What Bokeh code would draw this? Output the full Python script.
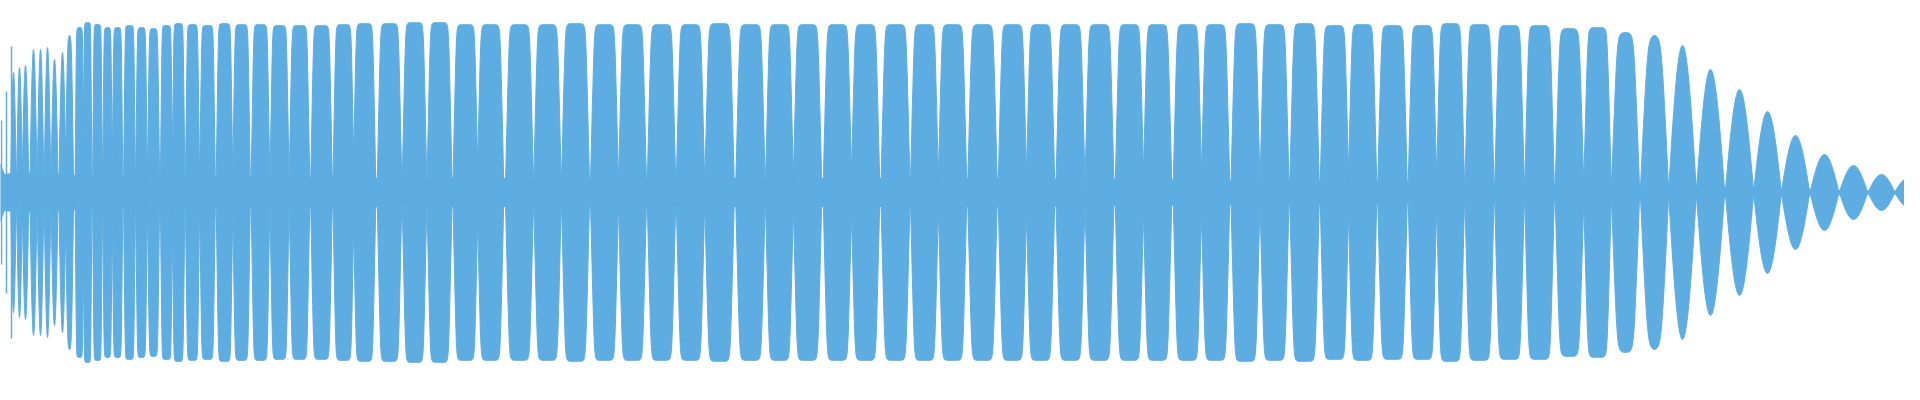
import numpy as np
from bokeh.plotting import figure
from bokeh.models import Range1d
from bokeh.embed import file_html
from bokeh.resources import INLINE

# ---- data (x: time position, y: amplitude) ----
lobe_center = [21, 27, 33, 41, 48, 55, 62, 70, 77, 87, 95, 105, 115, 125, 137, 149,
               161, 174, 186, 200, 215, 232, 249, 268, 287, 307, 329, 351, 372, 397,
               422, 447, 473, 498, 527, 555, 583, 612, 640, 669, 698, 727, 758, 787,
               815, 845, 873, 903, 932, 960, 990, 1020, 1048, 1078, 1107, 1137, 1165,
               1195, 1223, 1253, 1282, 1312, 1342, 1370, 1400, 1430, 1458, 1487, 1517,
               1547, 1577, 1605, 1633, 1662, 1690, 1718, 1747, 1775, 1803, 1832, 1861,
               1889, 1915]
lobe_peak = [120, 125, 127, 143, 143, 145, 133, 140, 157, 165, 170, 168, 165, 165, 167,
             165, 164, 167, 169, 168, 167, 169, 168, 168, 167, 167, 167, 168, 169, 169,
             170, 170, 168, 168, 168, 168, 169, 168, 168, 168, 168, 169, 168, 168,
             168, 168, 168, 168, 168, 168, 168, 168, 168, 168, 168, 168, 168,
             168, 168, 169, 168, 169, 167, 168, 167, 167, 169, 168, 167,
             167, 164, 165, 160, 157, 147, 123, 103, 81, 57, 38, 27,
             18, 14]
spike_x = [5, 9, 14, 19]
spike_peak = [91, 72, 101, 146]
band_x = [0, 4, 7, 12, 30, 60, 100, 200, 500, 1000, 1400, 1550, 1650, 1750, 1850, 1920]
band_level = [42, 42, 30, 18, 20, 18, 16, 15, 14, 14, 11, 8, 6, 4, 2, 1]

COLOR = "#5DADE2"

p = figure(width=1904, height=384, output_backend="svg", toolbar_location=None,
           x_range=Range1d(8, 1912), y_range=Range1d(-192, 192),
           x_axis_location=None, y_axis_location=None, min_border=0)
p.grid.visible = False
p.outline_line_color = None
p.background_fill_color = "white"
p.border_fill_color = "white"

# centre band (always-present low amplitude)
bx = list(band_x) + list(band_x[::-1])
by = list(band_level) + [-v for v in band_level[::-1]]
p.patch(bx, by, fill_color=COLOR, line_color=COLOR, line_width=1)

# beat lobes: sine envelope, softly saturated when the lobe is at full level
c = np.array(lobe_center, float)
h = np.array(lobe_peak, float)
w = np.empty_like(c)
w[1:-1] = (c[2:] - c[:-2]) / 2
w[0] = c[1] - c[0]
w[-1] = c[-1] - c[-2]
t = np.linspace(0, 1, 81)
n = 8.0


def sat(x):
    return x / (1 + x ** n) ** (1 / n)


xs, ys = [], []
for ci, wi, hi in zip(c, w, h):
    k = 0.5 + 1.7 * np.clip((hi - 150) / 17, 0, 1)
    prof = hi * sat(k * np.sin(np.pi * t)) / sat(k)
    x = ci - wi / 2 + t * wi
    xs.append(np.concatenate([x, x[::-1]]).tolist())
    ys.append(np.concatenate([prof, -prof[::-1]]).tolist())
p.patches(xs, ys, fill_color=COLOR, line_color=COLOR, line_width=1)

# transient spikes at the start
p.segment(x0=spike_x, y0=[-v for v in spike_peak], x1=spike_x, y1=spike_peak,
          line_color=COLOR, line_width=1.5)

open("out.html", "w").write(file_html(p, INLINE))
